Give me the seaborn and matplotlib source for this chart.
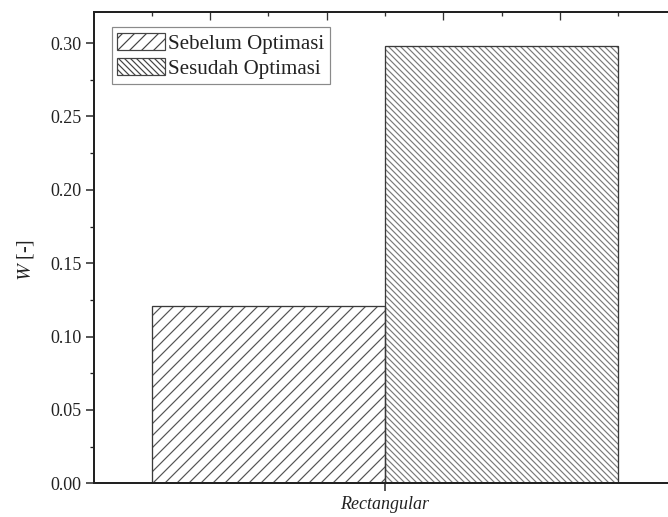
import matplotlib
matplotlib.use("Agg")
import matplotlib.pyplot as plt
from matplotlib.patches import Rectangle, Patch
import pandas as pd
import seaborn as sns

# Data
categories = ["Rectangular"]
series = ["Sebelum Optimasi", "Sesudah Optimasi"]
values_sebelum = [0.121]
values_sesudah = [0.298]
y_ticks = [0.00, 0.05, 0.10, 0.15, 0.20, 0.25, 0.30]

df = pd.DataFrame({
    "Geometri": categories * 2,
    "Kondisi": [series[0]] * len(categories) + [series[1]] * len(categories),
    "W": values_sebelum + values_sesudah,
})

sns.set_theme(style="ticks")
plt.rcParams["font.family"] = ["Liberation Serif", "DejaVu Serif"]
plt.rcParams["mathtext.fontset"] = "stix"
plt.rcParams["hatch.linewidth"] = 1.2

DPI = 72
fig = plt.figure(figsize=(668 / DPI, 517 / DPI), dpi=DPI)
fig.patch.set_facecolor("white")
ax = fig.add_axes([93.5 / 668, 33.7 / 517, 583 / 668, 471 / 517])

sns.barplot(data=df, x="Geometri", y="W", hue="Kondisi", hue_order=series,
            palette=["white", "white"], edgecolor="#6a6a6a", linewidth=0,
            width=0.8, ax=ax, legend=False)

hatches = ["//", "\\\\\\\\"]
hatch_cols = ["#555555", "#7a7a7a"]
for container, h, hc in zip(ax.containers, hatches, hatch_cols):
    for bar in container:
        bar.set_hatch(h)
        bar.set_edgecolor(hc)
        bar.set_linewidth(0)
        # crisp outline drawn on top of the hatched fill
        ax.add_patch(Rectangle(bar.get_xy(), bar.get_width(), bar.get_height(),
                               fill=False, edgecolor="#3a3a3a", linewidth=1.3,
                               zorder=bar.get_zorder() + 0.1))

ax.set_xlim(-0.5, 0.5)
ax.set_ylim(0, 0.321)
ax.set_yticks(y_ticks)
ax.set_yticklabels([f"{v:.2f}" for v in y_ticks])
ax.set_yticks([0.025, 0.075, 0.125, 0.175, 0.225, 0.275], minor=True)

ax.set_xlabel("")
ax.set_ylabel("$W$ [-]", fontsize=20, color="#222222")
ax.yaxis.set_label_coords(-0.098, 0.474)

ax.tick_params(axis="y", which="major", direction="out", length=8, width=1.5,
               labelsize=18, labelcolor="#222222", pad=4, color="#222222")
ax.tick_params(axis="y", which="minor", direction="out", length=4, width=1.3,
               color="#222222")
ax.tick_params(axis="x", which="major", direction="out", length=8, width=1.5,
               labelsize=18, labelcolor="#222222", pad=5, color="#222222")
for lbl in ax.get_xticklabels():
    lbl.set_fontstyle("italic")

# Top axis: inward ticks only
top = ax.secondary_xaxis("top")
top.set_xticks([-0.3, -0.1, 0.1, 0.3])
top.set_xticks([-0.4, -0.2, 0.0, 0.2, 0.4], minor=True)
top.set_xticklabels([])
top.tick_params(which="major", direction="in", length=8, width=1.3, color="#333333")
top.tick_params(which="minor", direction="in", length=4, width=1.3, color="#333333")
top.spines["top"].set_linewidth(1.8)
top.spines["top"].set_color("#333333")

for side in ["left", "bottom", "top"]:
    ax.spines[side].set_linewidth(2)
    ax.spines[side].set_color("#222222")
ax.spines["right"].set_visible(False)

handles = [Patch(facecolor="white", edgecolor="#444444", hatch=h, linewidth=1.2)
           for h in hatches]
leg = ax.legend(handles, series, loc="upper left", bbox_to_anchor=(0.031, 0.968),
                borderaxespad=0, fontsize=21, frameon=True, fancybox=False,
                framealpha=1, edgecolor="#8a8a8a", handlelength=2.3,
                handleheight=0.9, handletextpad=0.15, labelspacing=0.2,
                borderpad=0.25)
leg.get_frame().set_linewidth(1.2)
for t in leg.get_texts():
    t.set_color("#222222")

fig.savefig("out.png", dpi=DPI, facecolor="white")
